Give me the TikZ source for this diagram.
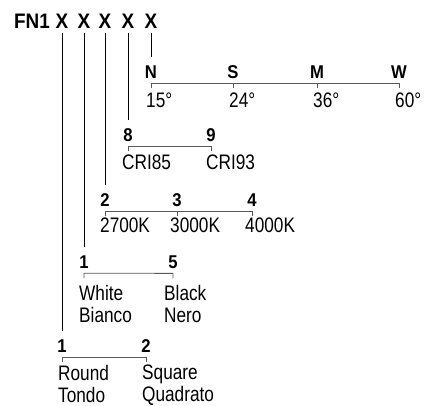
\documentclass[tikz,border=0pt]{standalone}
\usepackage{fontspec}
\setmainfont{Liberation Sans}
\newfontfamily\condfont[FakeStretch=0.82]{Liberation Sans}
\newfontfamily\headfont[FakeStretch=0.9]{Liberation Sans}
\usetikzlibrary{positioning}

\begin{document}
\begin{tikzpicture}[
  x=1pt, y=-1pt,
  code/.style={font=\headfont\bfseries\fontsize{21}{21}\selectfont,
    inner sep=0pt, anchor=base},
  head/.style={font=\headfont\bfseries\fontsize{18.5}{18.5}\selectfont,
    inner sep=0pt, anchor=base},
  opt/.style={font=\condfont\fontsize{21}{22}\selectfont,
    inner sep=0pt, anchor=north west, align=left},
  stem/.style={draw=black, line width=0.8pt, shorten <=5pt, shorten >=8pt},
  bracket/.style={draw=black!65, line width=0.8pt},
]
\useasboundingbox (0,0) rectangle (428,405);

% ---- Product code ----
\node[code, anchor=base west] (fn) at (14,28) {FN1};
\node[code] (x1) at (62,28) {X};
\node[code] (x2) at (84,28) {X};
\node[code] (x3) at (105,28) {X};
\node[code] (x4) at (128,28) {X};
\node[code] (x5) at (151,28) {X};

% ---- Beam angle ----
\node[head] (bN) at (151,78) {N};
\node[head] (bS) at (233,78) {S};
\node[head] (bM) at (317,78) {M};
\node[head] (bW) at (399,78) {W};
\node[opt] (aN) at (146,93) {15°};
\node[opt] (aS) at (229,93) {24°};
\node[opt] (aM) at (313,93) {36°};
\node[opt] (aW) at (395,93) {60°};

% ---- Colour rendering ----
\node[head] (cri8) at (128,141) {8};
\node[head] (cri9) at (211,141) {9};
\node[opt] (r85) at (122,155) {CRI85};
\node[opt] (r93) at (206,155) {CRI93};

% ---- Colour temperature ----
\node[head] (cct2) at (105,206) {2};
\node[head] (cct3) at (177,206) {3};
\node[head] (cct4) at (252,206) {4};
\node[opt] (k27) at (100,218) {2700K};
\node[opt] (k30) at (170,218) {3000K};
\node[opt] (k40) at (245,218) {4000K};

% ---- Finish ----
\node[head] (col1) at (84,268) {1};
\node[head] (col5) at (173,268) {5};
\node[opt] (white) at (79,285) {White\\Bianco};
\node[opt] (black) at (164,285) {Black\\Nero};

% ---- Shape ----
\node[head] (shp1) at (62,352) {1};
\node[head] (shp2) at (146,352) {2};
\node[opt] (round) at (58,365) {Round\\Tondo};
\node[opt] (square) at (142,365) {Square\\Quadrato};

% ---- Stems ----
\draw[stem] (x5.south) -- (bN.north);
\draw[stem] (x4.south) -- (cri8.north);
\draw[stem] (x3.south) -- (cct2.north);
\draw[stem] (x2.south) -- (col1.north);
\draw[stem] (x1.south) -- (shp1.north);

% ---- Brackets ----
\draw[bracket] ([yshift=-10pt]bN.south) -- ([yshift=-5pt]bN.south)
  -- ([yshift=-5pt]bW.south) -- ([yshift=-10pt]bW.south);
\draw[bracket] ([yshift=-5pt]bS.south) -- ([yshift=-10pt]bS.south);
\draw[bracket] ([yshift=-5pt]bM.south) -- ([yshift=-10pt]bM.south);
\draw[bracket] ([yshift=-10pt]cri8.south) -- ([yshift=-5pt]cri8.south)
  -- ([yshift=-5pt]cri9.south) -- ([yshift=-10pt]cri9.south);
\draw[bracket] ([yshift=-10pt]cct2.south) -- ([yshift=-5pt]cct2.south)
  -- ([yshift=-5pt]cct4.south) -- ([yshift=-10pt]cct4.south);
\draw[bracket] ([yshift=-5pt]cct3.south) -- ([yshift=-10pt]cct3.south);
\draw[bracket] ([yshift=-10pt]col1.south) -- ([yshift=-5pt]col1.south)
  -- ([yshift=-5pt]col5.south) -- ([yshift=-10pt]col5.south);
\draw[bracket] ([yshift=-10pt]shp1.south) -- ([yshift=-5pt]shp1.south)
  -- ([yshift=-5pt]shp2.south) -- ([yshift=-10pt]shp2.south);

\end{tikzpicture}
\end{document}
